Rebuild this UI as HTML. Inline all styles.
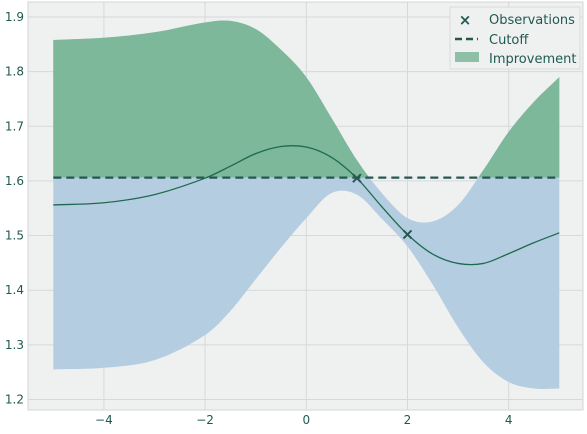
<!DOCTYPE html>
<html><head><meta charset="utf-8"><style>
body{margin:0;background:#fff;}
svg text{font-family:"DejaVu Sans","Liberation Sans",sans-serif;fill:#1f5a50;}
</style></head><body>
<svg id="c" width="587" height="429" viewBox="0 0 587 429">
<rect x="28" y="2" width="555" height="408" fill="#eff0f0" stroke="#d3d5d8"/>
<g id="grid"></g>
<defs><clipPath id="above"><rect id="cliprect" x="28" y="0" width="560" height="178"/></clipPath></defs>
<g id="marks"></g>
<g id="axes"></g>
<g>
<rect x="450" y="7" width="130" height="62" fill="#eff0f0" stroke="#d8dadc"/>
<text x="465" y="25" font-size="15" text-anchor="middle" font-weight="bold">×</text>
<text x="489" y="24" font-size="13">Observations</text>
<line x1="455" y1="39" x2="478" y2="39" stroke="#25584f" stroke-width="2.5" stroke-dasharray="7,4"/>
<text x="489" y="44" font-size="13">Cutoff</text>
<rect x="455" y="52" width="24" height="10" fill="#8fbfa6"/>
<text x="489" y="63" font-size="13">Improvement</text>
</g>
</svg>
<script>
const xs=[-5,-4,-3,-2,-1.5,-1,-0.5,0,0.5,1,1.5,2,2.5,3,3.5,4,4.5,5];
const meanVals=[1.556,1.56,1.575,1.605,1.627,1.65,1.663,1.662,1.643,1.605,1.552,1.502,1.466,1.449,1.449,1.467,1.487,1.505];
const upperVals=[1.858,1.862,1.872,1.89,1.893,1.878,1.84,1.79,1.715,1.638,1.577,1.532,1.526,1.556,1.62,1.69,1.745,1.79];
const lowerVals=[1.255,1.258,1.272,1.318,1.362,1.42,1.478,1.532,1.578,1.575,1.53,1.48,1.41,1.332,1.268,1.232,1.22,1.22];
const obsX=[1,2];
const obsY=[1.605,1.502];
const cutoff=1.606;
const xTicks=[-4,-2,0,2,4];
const yTicks=[1.2,1.3,1.4,1.5,1.6,1.7,1.8,1.9];
const NS="http://www.w3.org/2000/svg";
const sx=v=>306.3+v*50.6;
const sy=v=>17+(1.9-v)*546.4;
document.getElementById('cliprect').setAttribute('height',sy(cutoff));
function el(t,a,p){const e=document.createElementNS(NS,t);for(const k in a)e.setAttribute(k,a[k]);p.appendChild(e);return e;}
function curve(X,Y,move){let d="";const n=X.length;const P=X.map((x,i)=>[sx(x),sy(Y[i])]);
 d+=(move?"M":"L")+P[0][0]+","+P[0][1];
 for(let i=0;i<n-1;i++){const p0=P[Math.max(i-1,0)],p1=P[i],p2=P[i+1],p3=P[Math.min(i+2,n-1)];
  const h=p2[0]-p1[0];
  const m1=(p2[1]-p0[1])/(p2[0]-p0[0]||1),m2=(p3[1]-p1[1])/(p3[0]-p1[0]||1);
  d+=" C"+(p1[0]+h/3)+","+(p1[1]+m1*h/3)+" "+(p2[0]-h/3)+","+(p2[1]-m2*h/3)+" "+p2[0]+","+p2[1];}
 return d;}
const grid=document.getElementById('grid'),marks=document.getElementById('marks'),axes=document.getElementById('axes');
xTicks.forEach(t=>{const l=el('line',{x1:sx(t),x2:sx(t),y1:2,y2:410,stroke:'#d6d8db','stroke-width':1},grid);


const tx=el('text',{x:sx(t),y:424,'font-size':12,'text-anchor':'middle'},axes);tx.textContent=(t<0?'\u2212':'')+Math.abs(t);

});
yTicks.forEach(t=>{const l=el('line',{x1:28,x2:583,y1:sy(t),y2:sy(t),stroke:'#d6d8db','stroke-width':1},grid);


const tx=el('text',{x:24,y:sy(t)+4,'font-size':12,'text-anchor':'end'},axes);tx.textContent=t.toFixed(1);

});
const rx=xs.slice().reverse(),rl=lowerVals.slice().reverse();
const band=el('path',{d:curve(xs,upperVals,true)+" "+curve(rx,rl,false)+"Z",fill:'#b5cde0'},marks);


const imp=el('path',{d:curve(xs,upperVals,true)+" L"+sx(5)+","+sy(cutoff)+" L"+sx(-5)+","+sy(cutoff)+"Z",fill:'#7db89b','clip-path':'url(#above)'},marks);


const cut=el('line',{x1:sx(-5),x2:sx(5),y1:sy(cutoff),y2:sy(cutoff),stroke:'#25584f','stroke-width':2.2,'stroke-dasharray':'8,5'},marks);


const mean=el('path',{d:curve(xs,meanVals,true),fill:'none',stroke:'#1f6a4e','stroke-width':1.3},marks);


obsX.forEach((x,i)=>{const cx=sx(x),cy=sy(obsY[i]);const g=el('path',{d:`M${cx-4},${cy-4}L${cx+4},${cy+4}M${cx-4},${cy+4}L${cx+4},${cy-4}`,stroke:'#25584f','stroke-width':2},marks);

});
</script>
</body></html>
